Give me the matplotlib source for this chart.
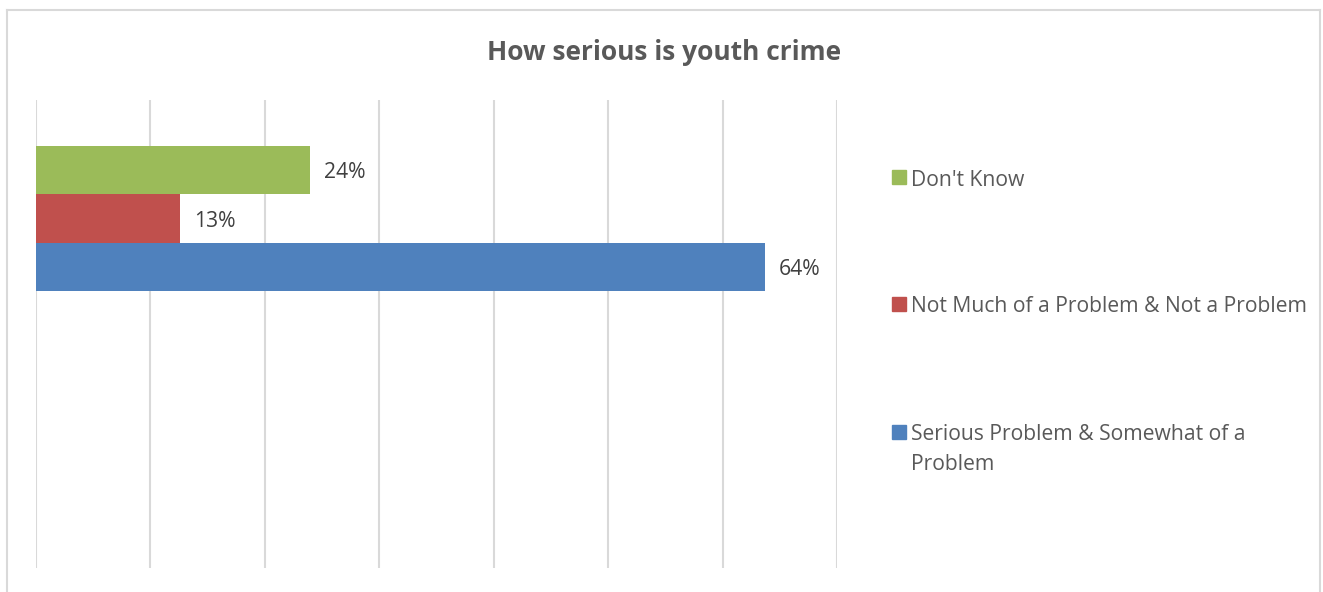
import matplotlib.pyplot as plt
from matplotlib.patches import Rectangle
from matplotlib.lines import Line2D
from matplotlib.transforms import offset_copy

# Data
series = ["Don't Know",
          "Not Much of a Problem & Not a Problem",
          "Serious Problem & Somewhat of a\nProblem"]
values = [23.95, 12.6, 63.7]
colors = ['#9BBB59', '#C0504D', '#4F81BD']

plt.rcParams['font.family'] = ['Open Sans', 'DejaVu Sans']
text_color = '#595959'

fig = plt.figure(figsize=(13.23, 5.92), dpi=100)
ax = fig.add_axes([36 / 1323, 1 - 568 / 592, 801 / 1323, 468 / 592])

# labels sit a few pixels low compared with va='center'
label_tr = offset_copy(ax.transData, fig=fig, x=0, y=-3, units='dots')

# clustered bars for a single category (top half of the axis)
bar_h = 0.207
for i, (name, v, c) in enumerate(zip(series, values, colors)):
    y = (i - 1) * bar_h + 0.006
    ax.barh(y, v, height=bar_h, color=c, zorder=2)
    ax.text(v + 1.2, y, f'{v:.0f}%', va='center', ha='left',
            fontsize=15.2, color='#404040', transform=label_tr)

ax.set_xlim(0, 70)
ax.set_ylim(1.5, -0.5)
ax.set_xticks(range(0, 71, 10))
ax.grid(axis='x', color='#d9d9d9', linewidth=1.5, zorder=0)
ax.tick_params(left=False, bottom=False, labelleft=False, labelbottom=False)
for s in ax.spines.values():
    s.set_visible(False)

# title
fig.text(664 / 1323, 1 - 53 / 592, 'How serious is youth crime',
         ha='center', va='center', fontsize=19, fontweight='bold', color=text_color)

# legend drawn by hand to mimic the spacing
legend_y = [177, 304, 432]
for name, c, ly in zip(series, colors, legend_y):
    fig.patches.append(Rectangle((892 / 1323, 1 - (ly + 7) / 592), 14 / 1323, 14 / 592,
                                 transform=fig.transFigure, color=c))
    for k, line in enumerate(name.split('\n')):
        fig.text(911 / 1323, 1 - (ly + 3 + 29 * k) / 592, line, ha='left', va='center',
                 fontsize=15.2, color=text_color)

# chart border
for xs, ys in [([7, 7], [10, 592]), ([7, 1320], [10, 10]), ([1320, 1320], [10, 592])]:
    fig.lines.append(Line2D([x / 1323 for x in xs], [1 - y / 592 for y in ys],
                            transform=fig.transFigure, color='#d9d9d9', linewidth=1.5))

fig.savefig('out.png', dpi=100)
